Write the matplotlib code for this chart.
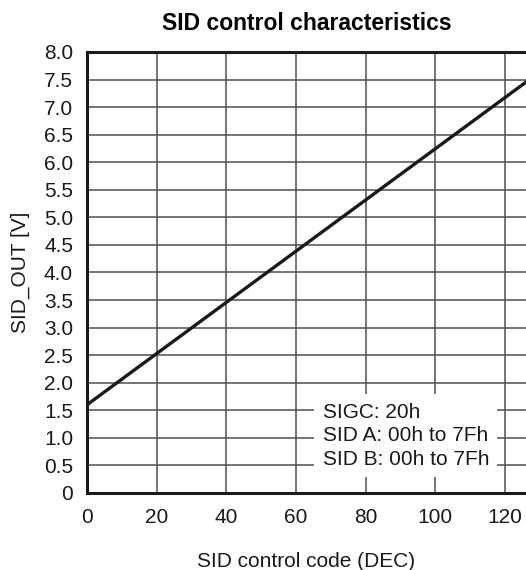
import matplotlib
matplotlib.use("Agg")
import matplotlib.pyplot as plt
import numpy as np

# endpoints of the characteristic line
codes = [0, 127]
sid_out = [1.6, 7.5]

x_ticks = [0, 20, 40, 60, 80, 100, 120]
y_ticks = np.arange(0, 8.01, 0.5)
y_labels = ["0"] + [f"{v:.1f}" for v in y_ticks[1:]]

note_lines = ["SIGC: 20h", "SID A: 00h to 7Fh", "SID B: 00h to 7Fh"]

plt.rcParams["font.family"] = ["Liberation Sans", "DejaVu Sans"]

fig = plt.figure(figsize=(5.26, 5.70), dpi=100)
ax = fig.add_axes([0.1654, 0.1351, 0.8346, 0.7737])

ax.plot(codes, sid_out, color="#1a1a1a", linewidth=2.4, zorder=3)

ax.set_xlim(0, 126)
ax.set_ylim(0, 8.0)
ax.set_xticks(x_ticks)
ax.set_yticks(y_ticks)
ax.set_yticklabels(y_labels)
ax.tick_params(length=0, labelsize=15, colors="#1a1a1a")
ax.tick_params(axis="y", pad=10)
ax.tick_params(axis="x", pad=11)

ax.grid(True, color="#505050", linewidth=1.1)
ax.set_axisbelow(True)

for side in ["left", "bottom", "top"]:
    ax.spines[side].set_linewidth(2.2)
    ax.spines[side].set_color("#1a1a1a")
ax.spines["right"].set_visible(False)

ax.set_title("SID control characteristics", fontsize=16.5, fontweight="bold", pad=16)
ax.set_xlabel("SID control code (DEC)", fontsize=15, labelpad=18, color="#1a1a1a")
ax.set_ylabel("SID_OUT [V]", fontsize=15, labelpad=10, color="#1a1a1a")

ax.text(67.6, 0.44, "\n".join(note_lines), fontsize=15, ha="left", va="bottom",
        linespacing=1.3, zorder=4, color="#1a1a1a",
        bbox=dict(facecolor="white", edgecolor="none", pad=6))

fig.savefig("out.png", dpi=100)
